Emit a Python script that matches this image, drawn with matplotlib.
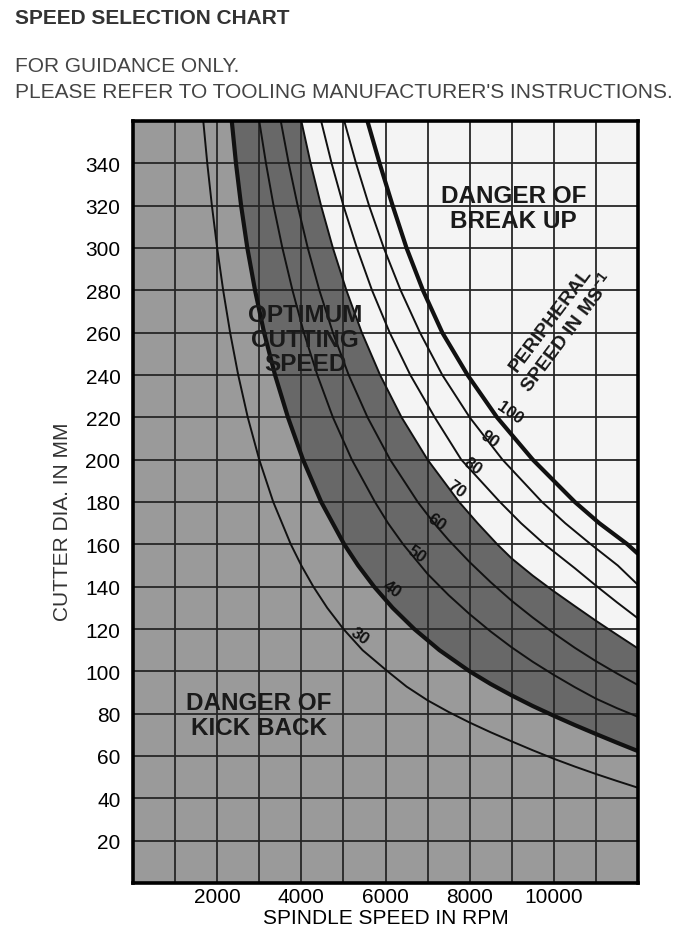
import numpy as np
import matplotlib.pyplot as plt

plt.rcParams['font.family'] = ['Liberation Sans', 'DejaVu Sans']
plt.rcParams['mathtext.fontset'] = 'custom'
plt.rcParams['mathtext.rm'] = 'Liberation Sans'
plt.rcParams['mathtext.bf'] = 'Liberation Sans:bold'

# peripheral speed curves (rpm, cutter dia in mm)
speeds = [30, 40, 50, 60, 70, 80, 90, 100]

rpm_30 = [1670, 1765, 1875, 2000, 2143, 2308, 2500, 2727, 3000, 3333, 3750, 4000, 4286, 4615, 5000, 5455,
          6050, 6500, 7000, 7500, 8000, 8500, 9000, 9500, 10000, 10500, 11000, 11500, 12000]
dia_30 = [360, 340, 320, 300, 280, 260, 240, 220, 200, 180, 160, 150, 140, 130, 120, 110,
          100, 92.8, 86.3, 80.8, 75.8, 71.2, 66.9, 62.7, 58.7, 55.0, 51.5, 48.2, 45.0]

rpm_40 = [2347, 2447, 2569, 2717, 2900, 3115, 3375, 3682, 4040, 4472, 5019, 5350, 5729, 6169, 6683, 7282,
          8000, 8500, 9000, 9500, 10000, 10500, 11000, 11500, 12000]
dia_40 = [360, 340, 320, 300, 280, 260, 240, 220, 200, 180, 160, 150, 140, 130, 120, 110,
          100, 94.0, 88.6, 83.6, 79.0, 74.6, 70.4, 66.3, 62.3]

rpm_50 = [3000, 3160, 3340, 3550, 3790, 4060, 4380, 4750, 5200, 5750, 6060, 6420,
          7000, 7500, 8000, 8500, 9000, 9500, 10000, 10500, 11000, 11500, 12000]
dia_50 = [360, 340, 320, 300, 280, 260, 240, 220, 200, 180, 170, 160,
          146.0, 136.0, 127.0, 118.8, 111.3, 104.5, 98.3, 92.5, 87.1, 82.6, 78.5]

rpm_60 = [3511, 3700, 3913, 4153, 4429, 4750, 5125, 5573, 6110, 6767, 7153,
          7500, 8000, 8500, 9000, 9500, 10000, 10500, 11000, 11500, 12000]
dia_60 = [360, 340, 320, 300, 280, 260, 240, 220, 200, 180, 170,
          162.0, 151.6, 142.1, 133.3, 125.4, 118.0, 111.1, 104.8, 99.0, 93.5]

rpm_70 = [4000, 4221, 4469, 4750, 5071, 5438, 5871, 6382, 7000, 7750, 8188, 8656,
          9000, 9500, 10000, 10500, 11000, 11500, 12000]
dia_70 = [360, 340, 320, 300, 280, 260, 240, 220, 200, 180, 170, 160,
          153.3, 145.2, 137.8, 130.8, 123.9, 117.3, 110.8]

rpm_80 = [4470, 4720, 5000, 5320, 5680, 6100, 6590, 7170, 7800, 8720, 9220, 9780,
          10500, 11000, 11500, 12000]
dia_80 = [360, 340, 320, 300, 280, 260, 240, 220, 200, 180, 170, 160,
          148.7, 140.5, 132.6, 125.0]

rpm_90 = [5020, 5300, 5610, 5960, 6360, 6820, 7350, 8000, 8780, 9720, 10270, 10880, 11520, 12000]
dia_90 = [360, 340, 320, 300, 280, 260, 240, 220, 200, 180, 170, 160, 150, 140.8]

rpm_100 = [5570, 5860, 6170, 6500, 6890, 7350, 7950, 8650, 9500, 10500, 11080, 11750, 12000]
dia_100 = [360, 340, 320, 300, 280, 260, 240, 220, 200, 180, 170, 160, 155.5]

curves_rpm = [rpm_30, rpm_40, rpm_50, rpm_60, rpm_70, rpm_80, rpm_90, rpm_100]
curves_dia = [dia_30, dia_40, dia_50, dia_60, dia_70, dia_80, dia_90, dia_100]
thick = [40, 100]

# where the speed numbers sit
label_rpm = [5381, 6143, 6731, 7207, 7683, 8079, 8476, 8952]
label_dia = [117.0, 139.1, 155.6, 170.6, 186.3, 197.3, 209.9, 222.5]

xticks = [2000, 4000, 6000, 8000, 10000]
yticks = list(range(20, 341, 20))

fig = plt.figure(figsize=(6.81, 9.28), dpi=100)
ax = fig.add_axes([133/681, 1 - 884/928, 505/681, 762/928])
ax.set_xlim(0, 12000)
ax.set_ylim(0, 360)
ax.set_facecolor('#f4f4f4')

# kick back zone: everything below the 40 curve
kx = rpm_40 + [12000, 0, 0]
ky = dia_40 + [0, 0, 360]
ax.fill(kx, ky, color='#9a9a9a', zorder=1, lw=0)

# optimum band between 40 and 70
bx = rpm_40 + rpm_70[::-1]
by = dia_40 + dia_70[::-1]
ax.fill(bx, by, color='#686868', zorder=1, lw=0)

for v, r, d in zip(speeds, curves_rpm, curves_dia):
    lw = 3.0 if v in thick else 1.4
    ax.plot(r, d, color='#111111', lw=lw, zorder=3, solid_capstyle='butt',
            solid_joinstyle='round')

for v, x, y in zip(speeds, label_rpm, label_dia):
    ax.text(x, y, str(v), rotation=-35, ha='center', va='center',
            fontsize=12, fontweight='bold', color='#111111', zorder=4)

ax.set_xticks(xticks)
ax.set_xticks(range(1000, 12000, 1000), minor=True)
ax.set_yticks(yticks)
ax.grid(True, which='both', color='#262626', lw=1.3, zorder=2)
ax.set_axisbelow(False)
ax.tick_params(which='both', length=0)
ax.tick_params(axis='x', labelsize=15, pad=3)
ax.tick_params(axis='y', labelsize=15, pad=9)
for s in ax.spines.values():
    s.set_linewidth(2.6)
    s.set_zorder(5)

ax.set_xlabel('SPINDLE SPEED IN RPM', fontsize=15, labelpad=1)
ax.set_ylabel('CUTTER DIA. IN MM', fontsize=15, color='#333333')
ax.yaxis.set_label_coords(-0.12, 0.476)

# zone names
ax.text(9048, 318.9, 'DANGER OF\nBREAK UP', ha='center', va='center', fontsize=17.5,
        fontweight='bold', color='#1a1a1a', linespacing=1.1, zorder=4)
ax.text(4095, 257, 'OPTIMUM\nCUTTING\nSPEED', ha='center', va='center', fontsize=17.5,
        fontweight='bold', color='#1a1a1a', linespacing=1.1, zorder=4)
ax.text(3000, 79.3, 'DANGER OF\nKICK BACK', ha='center', va='center', fontsize=17.5,
        fontweight='bold', color='#1a1a1a', linespacing=1.1, zorder=4)
ax.text(10140, 263, 'PERIPHERAL\nSPEED IN MS$^{\\mathbf{-1}}$', ha='center', va='center',
        rotation=53, rotation_mode='anchor', fontsize=14, fontweight='bold',
        color='#1a1a1a', linespacing=1.05, zorder=4)

fig.text(15/681, 1 - 18/928, 'SPEED SELECTION CHART', fontsize=15, fontweight='bold',
         color='#333333', va='center')
fig.text(15/681, 1 - 67/928, 'FOR GUIDANCE ONLY.', fontsize=15, color='#444444', va='center')
fig.text(15/681, 1 - 92/928, "PLEASE REFER TO TOOLING MANUFACTURER'S INSTRUCTIONS.",
         fontsize=15, color='#444444', va='center')

fig.savefig('out.png', dpi=100, facecolor='white')
